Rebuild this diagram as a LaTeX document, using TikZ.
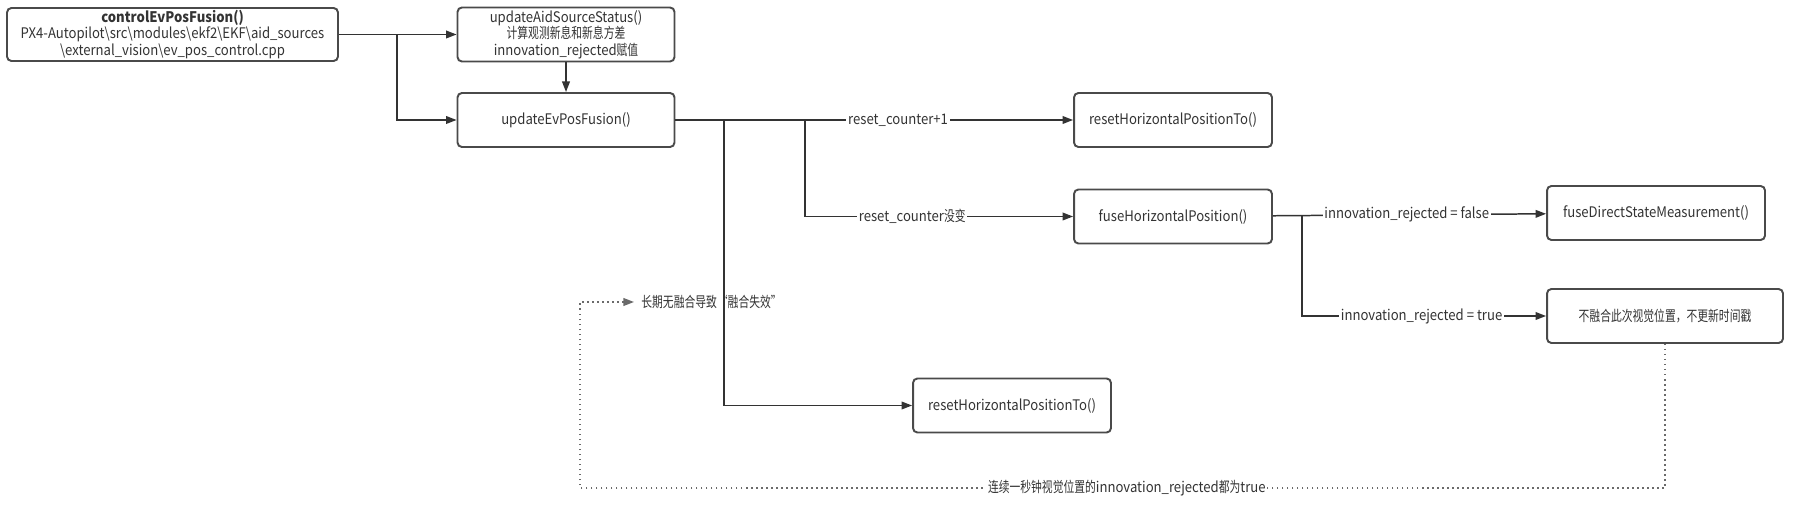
\documentclass[tikz,border=0pt]{standalone}
\usepackage{fontspec}
\setmainfont{Noto Sans CJK SC}[FakeStretch=0.9]
\newfontfamily\zhfont{Noto Sans CJK SC}[FakeStretch=0.74]
\newcommand\zh[1]{{\zhfont #1}}
\usepackage{tikz}
\usetikzlibrary{positioning,shapes,arrows.meta}
\definecolor{cLine}{HTML}{333333}
\definecolor{cBorder}{HTML}{4A4A4A}
\definecolor{cText}{HTML}{333333}
\definecolor{cDot}{HTML}{6A6A6A}

\begin{document}
\begin{tikzpicture}[
            x=0.02cm, y=-0.02cm,
            box/.style={
                draw=cBorder,
                rectangle,
                rounded corners=2.5pt,
                align=center,
                minimum height=1.08cm,
                line width=1.1pt,
                fill=white,
                text=cText,
                inner ysep=1pt,
                font=\fontsize{8.3}{9.3}\selectfont
            },
            arrow/.style={
                ->,
                line width=0.85pt,
                color=cLine,
                >={Triangle[length=6pt,width=4.4pt]}
            },
            loopback/.style={
                arrow,
                dotted,
                color=cDot
            },
            tag/.style={
                font=\fontsize{8.3}{9.3}\selectfont,
                text=cText,
                fill=white,
                inner sep=1pt
            }
        ]
            \useasboundingbox (0,0) rectangle (1797,509);

            \node (ctrl) [box, minimum width=6.62cm, minimum height=1.06cm] at (172.5,34.5)
                {\textbf{controlEvPosFusion()}\\PX4-Autopilot\textbackslash src\textbackslash modules\textbackslash ekf2\textbackslash EKF\textbackslash aid\_sources\\\textbackslash external\_vision\textbackslash ev\_pos\_control.cpp};
            \node (aid) [box, minimum width=4.34cm] at (566,34.5)
                {updateAidSourceStatus()\\\zh{计算观测新息和新息方差}\\innovation\_rejected\zh{赋值}};
            \node (upd) [box, minimum width=4.34cm] at (566,120) {updateEvPosFusion()};
            \node (resetA) [box, minimum width=3.96cm] at (1173,120) {resetHorizontalPositionTo()};
            \node (fuseH) [box, minimum width=3.96cm] at (1173,216.5) {fuseHorizontalPosition()};
            \node (fuseD) [box, minimum width=4.36cm] at (1656,213) {fuseDirectStateMeasurement()};
            \node (keep) [box, minimum width=4.72cm] at (1665,316) {\zh{不融合此次视觉位置，不更新时间戳}};
            \node (resetB) [box, minimum width=3.96cm] at (1012,405.5) {resetHorizontalPositionTo()};
            \node (fail) [tag, inner xsep=4pt, anchor=west] at (634,302) {\zh{长期无融合导致“融合失效”}};

            % branch points
            \coordinate (j1) at (397,34.5);
            \coordinate (j2) at (724,120);
            \coordinate (j3) at (805,120);
            \coordinate (j4) at (1302,216.5);
            \coordinate (back) at (580,488);

            \draw[arrow] (ctrl) -- (aid);
            \draw[arrow] (j1) |- (upd);
            \draw[arrow] (aid) -- (upd);
            \draw[arrow] (upd) -- node[tag, pos=0.56] {reset\_counter+1} (resetA);
            \draw[arrow] (j2) |- (resetB);
            \draw[arrow] (j3) |- node[tag, pos=0.70] {reset\_counter\zh{没变}} (fuseH);
            \draw[arrow] (fuseH) -- node[tag, pos=0.49] {innovation\_rejected = false} (fuseD);
            \draw[arrow] (j4) |- node[tag, pos=0.745] {innovation\_rejected = true} (keep);

            \draw[loopback] (keep) |- node[tag, pos=0.748] {\zh{连续一秒钟视觉位置的}innovation\_rejected\zh{都为}true} (back) |- (fail);
        \end{tikzpicture}
\end{document}
